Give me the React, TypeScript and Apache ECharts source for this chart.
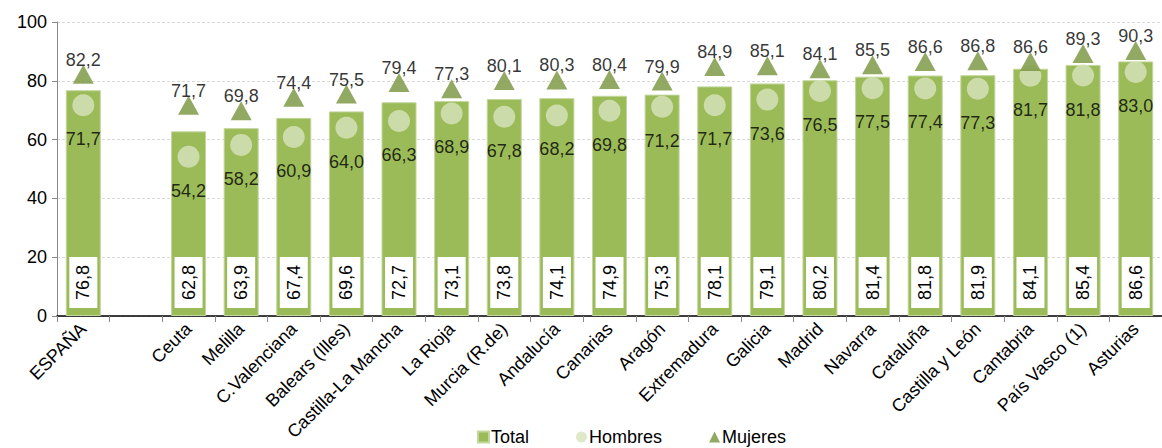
import React, { useEffect, useRef } from "react";
import * as echarts from "echarts";

const categories = [
  "ESPAÑA", "", "Ceuta", "Melilla", "C.Valenciana", "Balears (Illes)", "Castilla-La Mancha",
  "La Rioja", "Murcia (R.de)", "Andalucía", "Canarias", "Aragón", "Extremadura", "Galicia",
  "Madrid", "Navarra", "Cataluña", "Castilla y León", "Cantabria", "País Vasco (1)", "Asturias",
];
const total = [76.8, null, 62.8, 63.9, 67.4, 69.6, 72.7, 73.1, 73.8, 74.1, 74.9, 75.3, 78.1, 79.1, 80.2, 81.4, 81.8, 81.9, 84.1, 85.4, 86.6];
const hombres = [71.7, null, 54.2, 58.2, 60.9, 64.0, 66.3, 68.9, 67.8, 68.2, 69.8, 71.2, 71.7, 73.6, 76.5, 77.5, 77.4, 77.3, 81.7, 81.8, 83.0];
const mujeres = [82.2, null, 71.7, 69.8, 74.4, 75.5, 79.4, 77.3, 80.1, 80.3, 80.4, 79.9, 84.9, 85.1, 84.1, 85.5, 86.6, 86.8, 86.6, 89.3, 90.3];
const yTicks = { min: 0, max: 100, interval: 20 };

const FONT = "Liberation Sans, Arial, sans-serif";
const fmt = (p: any) => (p.value == null ? "" : Number(p.value).toFixed(1).replace(".", ","));

export default function App() {
  const ref = useRef<HTMLDivElement>(null);
  useEffect(() => {
    if (!ref.current) return;
    const chart = echarts.init(ref.current, undefined, { renderer: "svg" });
    chart.setOption({
      animation: false,
      textStyle: { fontFamily: FONT },
      grid: { left: 57, top: 22, width: 1113, bottom: 132, containLabel: false },
      legend: {
        left: 472,
        top: 423,
        itemWidth: 11,
        itemHeight: 11,
        itemGap: 47,
        textStyle: { fontSize: 18, color: "#000", fontFamily: FONT, padding: [0, 0, 0, -3] },
        data: [
          { name: "Total", icon: "rect" },
          { name: "Hombres", icon: "circle" },
          { name: "Mujeres", icon: "triangle" },
        ],
      },
      xAxis: {
        type: "category",
        data: categories,
        boundaryGap: true,
        axisLine: { lineStyle: { color: "#000", width: 1.5 } },
        axisTick: { show: true, length: 6, lineStyle: { color: "#888" } },
        axisLabel: { rotate: 45, interval: 0, fontSize: 18, color: "#000", margin: 10, fontFamily: FONT },
      },
      yAxis: {
        type: "value",
        min: yTicks.min,
        max: yTicks.max,
        interval: yTicks.interval,
        axisLine: { show: true, lineStyle: { color: "#888" } },
        axisTick: { show: true, length: 5, lineStyle: { color: "#888" } },
        axisLabel: { fontSize: 18, color: "#000", margin: 10, fontFamily: FONT },
        splitLine: { show: true, lineStyle: { color: "#d9d9d9", type: [3, 2] } },
      },
      series: [
        {
          name: "Total",
          type: "bar",
          data: total,
          barWidth: 35,
          itemStyle: { color: "#9BBB59", borderColor: "#C3D69B", borderWidth: 1 },
          z: 1,
          label: {
            show: true,
            position: "insideBottom",
            rotate: 90,
            align: "left",
            verticalAlign: "middle",
            distance: 8,
            formatter: fmt,
            fontSize: 18,
            color: "#000",
            fontFamily: FONT,
            backgroundColor: "#fff",
            padding: [6, 8, 4, 8],
          },
        },
        {
          name: "Hombres",
          type: "scatter",
          data: hombres,
          symbol: "circle",
          symbolSize: 22,
          itemStyle: { color: "#D7E4BD" },
          z: 3,
          label: {
            show: true,
            position: "bottom",
            distance: 14,
            formatter: fmt,
            fontSize: 18,
            color: "#000",
            fontFamily: FONT,
          },
        },
        {
          name: "Mujeres",
          type: "scatter",
          data: mujeres,
          symbol: "triangle",
          symbolSize: [21, 19],
          itemStyle: { color: "#77933C" },
          z: 4,
          label: {
            show: true,
            position: "top",
            distance: -4,
            formatter: fmt,
            fontSize: 18,
            color: "#000",
            fontFamily: FONT,
          },
        },
      ],
    });
    return () => chart.dispose();
  }, []);
  return (
    <div
      ref={ref}
      style={{ position: "fixed", left: 0, top: 0, width: 1162, height: 448, background: "#fff" }}
    />
  );
}
